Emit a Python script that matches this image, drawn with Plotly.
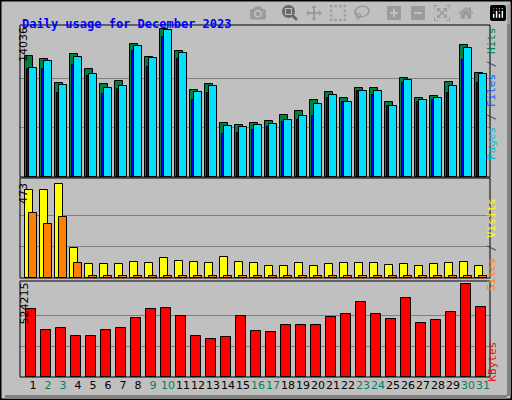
import plotly.graph_objects as go

days = list(range(1, 32))
weekend = [2, 3, 9, 10, 16, 17, 23, 24, 30, 31]

hits = [11460, 11170, 8880, 11650, 10220, 8790, 9070, 12610, 11360, 14036, 11940, 8210, 8790, 5160, 4970,
        5160, 5350, 5920, 6300, 7260, 8020, 7450, 8400, 8400, 7070, 9360, 7450, 7640, 8980, 12510, 9840]
files = [10310, 10980, 8690, 11360, 9740, 8400, 8600, 12410, 11270, 13940, 11750, 8020, 8600, 4870, 4780,
         4970, 5060, 5440, 5830, 6880, 7740, 7160, 8120, 8120, 6780, 9170, 7350, 7450, 8600, 12220, 9740]
pages = [10220, 10220, 7930, 10600, 9550, 7830, 8310, 11940, 10410, 13270, 11170, 7260, 7930, 4110, 4200,
         4490, 4780, 5250, 5440, 5830, 7450, 7070, 8120, 7740, 6690, 8880, 7160, 7260, 7930, 11080, 8880]
visits = [442, 442, 473, 153, 71, 71, 71, 81, 76, 101, 86, 81, 76, 107, 81,
          76, 60, 60, 76, 60, 71, 76, 76, 76, 65, 71, 60, 71, 76, 81, 60]
sites = [329, 272, 308, 76, 8, 8, 8, 8, 8, 8, 8, 8, 8, 8, 8,
         8, 8, 8, 8, 8, 8, 8, 8, 8, 8, 8, 8, 8, 8, 8, 8]
kbytes = [385900, 265000, 276500, 230400, 230400, 265000, 276500, 334100, 385900, 391700, 345600, 230400,
          213100, 224600, 345600, 259200, 253400, 293800, 293800, 293800, 339800, 357100, 420500, 357100,
          328300, 443500, 305300, 322600, 368600, 524215, 397400]

max_hits, max_visits, max_kb = 14036, 473, 524215

fig = go.Figure()
line = dict(color='black', width=1)


def bars(y, color, offset, width, xa, ya):
    fig.add_trace(go.Bar(x=days, y=y, offset=offset, width=width, marker=dict(color=color, line=line),
                         xaxis=xa, yaxis=ya, showlegend=False))


bars(hits, '#008040', -0.53, 0.53, 'x', 'y')
bars(pages, '#0000FF', -0.4, 0.53, 'x', 'y')
bars(files, '#00E0FF', -0.27, 0.53, 'x', 'y')
bars(visits, '#FFFF00', -0.53, 0.53, 'x2', 'y2')
bars(sites, '#FF8000', -0.27, 0.53, 'x2', 'y2')
bars(kbytes, '#FF0000', -0.47, 0.67, 'x3', 'y3')

xr = [0.133, 31.47]
xd = [20 / 512, 490 / 512]
ticktext = [f'<span style="color:#008060">{d}</span>' if d in weekend else str(d) for d in days]
axx = dict(range=xr, domain=xd, showgrid=False, zeroline=False, showticklabels=False, ticks='')
ygrid = dict(showgrid=True, gridcolor='#808080', gridwidth=1, zeroline=False, showticklabels=False, ticks='')

fig.update_layout(
    width=512, height=400, margin=dict(l=0, r=0, t=0, b=0),
    paper_bgcolor='#C0C0C0', plot_bgcolor='#C0C0C0', barmode='overlay', bargap=0,
    xaxis=dict(axx, anchor='y'),
    xaxis2=dict(axx, anchor='y2'),
    xaxis3=dict(axx, anchor='y3', showticklabels=True, tickvals=days, ticktext=ticktext,
                tickfont=dict(family='DejaVu Sans', size=11, color='black'), tickangle=0),
    yaxis=dict(ygrid, domain=[1 - 177 / 400, 1 - 25 / 400], range=[0, max_hits * 151 / 147],
               tickvals=[max_hits / 3, max_hits * 2 / 3]),
    yaxis2=dict(ygrid, domain=[1 - 278 / 400, 1 - 178 / 400], range=[0, max_visits * 98 / 92],
                tickvals=[max_visits / 3, max_visits * 2 / 3]),
    yaxis3=dict(ygrid, domain=[1 - 377 / 400, 1 - 281 / 400], range=[0, max_kb * 94 / 91],
                tickvals=[max_kb / 3, max_kb * 2 / 3]),
)

# panel frames and outer 3D border
for y0, y1 in [(25, 177), (178, 278), (281, 377)]:
    fig.add_shape(type='rect', xref='paper', yref='paper', x0=20 / 512, x1=490 / 512,
                  y0=1 - y1 / 400, y1=1 - y0 / 400, line=dict(color='black', width=1))
fig.add_shape(type='rect', xref='paper', yref='paper', x0=0.001, x1=0.999, y0=0.001, y1=0.999,
              line=dict(color='black', width=2))
fig.add_shape(type='line', xref='paper', yref='paper', x0=509 / 512, x1=509 / 512, y0=0.01, y1=0.99,
              line=dict(color='#808080', width=4))
fig.add_shape(type='line', xref='paper', yref='paper', x0=0.01, x1=0.99, y0=3 / 400, y1=3 / 400,
              line=dict(color='#808080', width=4))

mono = 'DejaVu Sans Mono'
ann = [
    dict(x=20 / 512, y=1 - 15 / 400, text='<b>Daily usage for December 2023</b>', xanchor='left',
         font=dict(family=mono, size=12, color='#0000FF')),
    dict(x=15 / 512, y=1 - 25 / 400, text='14036', textangle=-90, yanchor='top'),
    dict(x=15 / 512, y=1 - 181 / 400, text='473', textangle=-90, yanchor='top'),
    dict(x=15 / 512, y=1 - 281 / 400, text='524215', textangle=-90, yanchor='top'),
    dict(x=500 / 512, y=1 - 25 / 400, textangle=-90, yanchor='top',
         text='<span style="color:#00C0E0">Pages</span> / <span style="color:#0060FF">Files</span>'
              ' / <span style="color:#008060">Hits</span>', font=dict(family=mono, size=11)),
    dict(x=500 / 512, y=1 - 196 / 400, textangle=-90, yanchor='top',
         text='<span style="color:#FF8000">Sites</span> / <span style="color:#FFFF00">Visits</span>',
         font=dict(family=mono, size=11)),
    dict(x=500 / 512, y=1 - 340 / 400, textangle=-90, yanchor='top',
         text='<span style="color:#FF0000">KBytes</span>', font=dict(family=mono, size=11)),
]
for a in ann:
    a.setdefault('font', dict(family='DejaVu Sans', size=11, color='black'))
    fig.add_annotation(xref='paper', yref='paper', showarrow=False, **a)

fig.write_html("out.html", post_script="document.body.style.margin='0';")
